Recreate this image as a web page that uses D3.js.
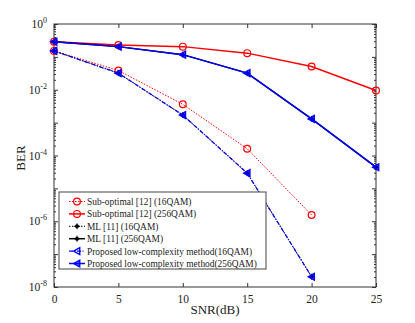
<!DOCTYPE html>
<html><head><meta charset="utf-8">
<script src="https://cdn.jsdelivr.net/npm/d3@7"></script>
<style>body{margin:0;background:#fff}svg{display:block}text{font-family:"Liberation Serif","Times New Roman",serif;fill:#222}</style>
</head><body><svg id="c" width="415" height="323"></svg>
<script>
const snr = [0, 5, 10, 15, 20, 25];
const subOpt16 = [0.152, 0.0385, 0.0036, 1.6e-4, 1.55e-6];
const subOpt256 = [0.29, 0.23, 0.205, 0.13, 0.051, 0.0095];
const ml16 = [0.152, 0.032, 0.0017, 2.9e-5, 2.05e-8];
const ml256 = [0.29, 0.205, 0.117, 0.032, 0.0013, 4.4e-5];
const prop16 = [0.152, 0.032, 0.0017, 2.9e-5, 2.05e-8];
const prop256 = [0.29, 0.205, 0.117, 0.032, 0.0013, 4.4e-5];
const xTicks = [0, 5, 10, 15, 20, 25];
const yLabelExps = [0, -2, -4, -6, -8];
const legendLabels = ["Sub-optimal [12] (16QAM)", "Sub-optimal [12] (256QAM)", "ML [11] (16QAM)", "ML [11] (256QAM)", "Proposed low-complexity method(16QAM)", "Proposed low-complexity method(256QAM)"];

const svg = d3.select("#c");
const L = 54, R = 376, T = 24, B = 287;
const x = d3.scaleLinear().domain([0, 25]).range([L, R]);
const y = d3.scaleLog().domain([1e-8, 1]).range([B, T]);

const series = [
  {v: subOpt16, color: "#ff0000", dash: "1.5,1.5", w: 1, marker: "circle"},
  {v: subOpt256, color: "#ff0000", dash: null, w: 1.5, marker: "circle"},
  {v: ml16, color: "#000", dash: "1.5,1.5", w: 1, marker: "star"},
  {v: ml256, color: "#000", dash: null, w: 1.5, marker: "star"},
  {v: prop16, color: "#0000ff", dash: "4,1.5,1,1.5", w: 1.3, marker: "tri"},
  {v: prop256, color: "#0000ff", dash: null, w: 1.5, marker: "tri"}
];

const g = svg.append("g");
g.append("rect").attr("x", L).attr("y", T).attr("width", R - L).attr("height", B - T)
  .attr("fill", "#fff").attr("stroke", "#333").attr("stroke-width", 1);

const xAxB = d3.axisBottom(x).tickValues(xTicks).tickSize(-4).tickPadding(8).tickFormat(d3.format("d"));
const xAxT = d3.axisTop(x).tickValues(xTicks).tickSize(-4).tickFormat("");
const gxb = g.append("g").attr("transform", `translate(0,${B})`).call(xAxB);
g.append("g").attr("transform", `translate(0,${T})`).call(xAxT);

const majors = d3.range(-8, 1).map(e => Math.pow(10, e));
const minors = [];
for (let e = -8; e < 0; e++) for (let m = 2; m <= 9; m++) minors.push(m * Math.pow(10, e));
[[d3.axisLeft, L], [d3.axisRight, R]].forEach(([ax, pos]) => {
  g.append("g").attr("transform", `translate(${pos},0)`).call(ax(y).tickValues(majors).tickSize(-4).tickFormat(""));
  g.append("g").attr("transform", `translate(${pos},0)`).call(ax(y).tickValues(minors).tickSize(-2).tickFormat(""));
});
g.selectAll(".domain").remove();
g.selectAll(".tick line").attr("stroke", "#333");
gxb.selectAll("text").attr("font-size", 11.5).attr("fill", "#222").style("font-family", "Liberation Serif");

yLabelExps.forEach(e => {
  const t = svg.append("text").attr("x", 47).attr("y", y(Math.pow(10, e)) + 4)
    .attr("text-anchor", "end").attr("font-size", 11.5);
  t.append("tspan").text("10");
  t.append("tspan").attr("dy", -5).attr("font-size", 8).text(e === 0 ? "0" : "-" + (-e));
});

svg.append("text").attr("x", 215).attr("y", 314).attr("text-anchor", "middle").attr("font-size", 13).text("SNR(dB)");
svg.append("text").attr("transform", "translate(25,158) rotate(-90)").attr("text-anchor", "middle").attr("font-size", 13).text("BER");

const line = d3.line().x((d, i) => x(snr[i])).y(d => y(d));
const triPath = (cx, cy, s) => `M${cx - s},${cy}L${cx + s * 0.8},${cy - s}L${cx + s * 0.8},${cy + s}Z`;

function drawMarker(sel, type, cx, cy, color, filled) {
  if (type === "circle") {
    sel.append("circle").attr("cx", cx).attr("cy", cy).attr("r", 3.4).attr("fill", "none").attr("stroke", color).attr("stroke-width", 1.2);
  } else if (type === "star") {
    sel.append("circle").attr("cx", cx).attr("cy", cy).attr("r", 2).attr("fill", color);
    sel.append("path").attr("d", `M${cx - 3},${cy}H${cx + 3}M${cx},${cy - 3}V${cy + 3}`).attr("stroke", color).attr("stroke-width", 1);
  } else {
    sel.append("path").attr("d", triPath(cx, cy, 3.4)).attr("fill", filled ? color : "none").attr("fill-opacity", filled ? 0.6 : 0).attr("stroke", color).attr("stroke-width", 1.4);
  }
}

const plot = svg.append("g");
series.forEach(s => {
  plot.append("path").attr("d", line(s.v)).attr("fill", "none").attr("stroke", s.color)
    .attr("stroke-width", s.w).attr("stroke-dasharray", s.dash);
  s.v.forEach((d, i) => drawMarker(plot, s.marker, x(snr[i]), y(d), s.color, s.marker === "tri"));
});

const lg = svg.append("g");
lg.append("rect").attr("x", 59).attr("y", 192).attr("width", 207).attr("height", 77)
  .attr("fill", "#fff").attr("stroke", "#444").attr("stroke-width", 1);
const texts = [];
series.forEach((s, i) => {
  const ry = 201.5 + i * 12.4;
  lg.append("line").attr("x1", 69).attr("x2", 85).attr("y1", ry).attr("y2", ry)
    .attr("stroke", s.color).attr("stroke-width", s.w).attr("stroke-dasharray", s.dash);
  drawMarker(lg, s.marker, 77, ry, s.color, i === 5);
  texts.push(lg.append("text").attr("x", 87).attr("y", ry + 3.5).attr("font-size", 10).text(legendLabels[i]));
});
// fit longest label to the reference width
const longest = texts[5].node().getComputedTextLength();
const fs = 10 * 170 / longest;
texts.forEach(t => t.attr("font-size", fs.toFixed(2)));
</script></body></html>
